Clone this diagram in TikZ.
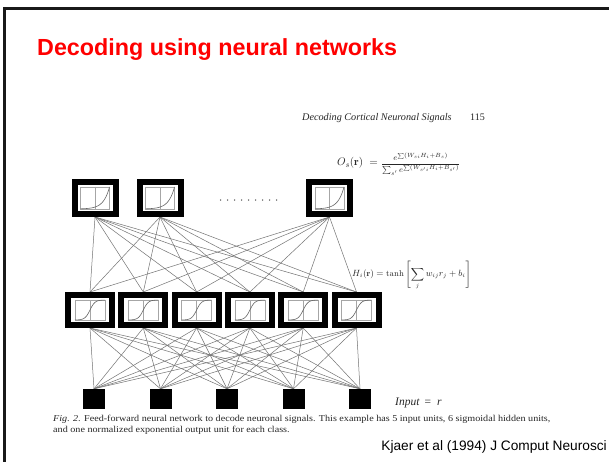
\documentclass[tikz,border=0pt]{standalone}
\usepackage{amsmath}
\usepackage{fontspec}
\newfontfamily\arialfont{Liberation Sans}
\newfontfamily\timesfont{Liberation Serif}
\usetikzlibrary{backgrounds,calc}
\begin{document}
\begin{tikzpicture}[x=1pt,y=-1pt,
  outunit/.style={draw=black, line width=6pt, fill=white, minimum width=41pt, minimum height=32pt, inner sep=0pt},
  hidunit/.style={draw=black, line width=6pt, fill=white, minimum width=44pt, minimum height=30pt, inner sep=0pt},
  inunit/.style={fill=black, minimum width=22pt, minimum height=20pt, inner sep=0pt},
  conn/.style={draw=black!55, line width=0.5pt},
  innerbox/.style={draw=black!35, line width=0.5pt},
  curveline/.style={draw=black!60, line width=0.6pt},
  scan/.style={text=black!85, inner sep=0pt},
]
\useasboundingbox (0,0) rectangle (609,462);
\begin{scope}[on background layer]
  \fill[white] (0,0) rectangle (609,462);
\end{scope}
\draw[line width=2.7pt, black!90] (609,8.5) -- (4.3,8.5) -- (4.3,462);

% title
\node[anchor=base west, text=red, inner sep=0pt, font=\arialfont\bfseries\fontsize{23.3}{28}\selectfont] (title) at (37,56) {Decoding using neural networks};

% units
\foreach \i/\px in {1/95,2/160,3/329.5} \node[outunit] (o\i) at (\px,198) {};
\foreach \i/\px in {1/90,2/143.3,3/196.6,4/249.9,5/303.2,6/356.5} \node[hidunit] (h\i) at (\px,310) {};
\foreach \i/\px in {1/94,2/160.5,3/227,4/293.5,5/360} \node[inunit] (in\i) at (\px,399) {};

% connectors
\begin{scope}[on background layer]
  \foreach \a in {1,2,3} \foreach \b in {1,...,6} \draw[conn] (o\a.south) -- (h\b.north);
  \foreach \a in {1,...,6} \foreach \b in {1,...,5} \draw[conn] (h\a.south) -- (in\b.north);
\end{scope}

% inner drawings
\foreach \n in {o1,o2,o3} {
  \begin{scope}[shift={(\n.center)}]
    \draw[innerbox] (-14.5,-11) rectangle (14.5,11);
    \draw[innerbox] (0,-11) -- (0,11);
    \draw[curveline] plot[domain=-14.5:14.5, samples=30, smooth] (\x,{11-22*exp((\x-14.5)/6)});
  \end{scope}
}
\foreach \n in {h1,h2,h3,h4,h5,h6} {
  \begin{scope}[shift={(\n.center)}]
    \draw[innerbox] (-15,-10) rectangle (15,10);
    \draw[innerbox] (0,-10) -- (0,10);
    \draw[curveline] plot[domain=-15:15, samples=30, smooth] (\x,{-10*tanh(\x/5)});
  \end{scope}
}

% dots
\foreach \k in {0,...,8} \fill[black!70] (220.5+7*\k,200) circle (0.75);

% texts of the scanned figure
\node[scan, anchor=base west, font=\timesfont\itshape\fontsize{10.2}{12}\selectfont] (hdr) at (302,121) {Decoding Cortical Neuronal Signals};
\node[scan, anchor=base west, font=\timesfont\fontsize{10}{12}\selectfont] (pg) at (470,121) {115};
\node[scan, anchor=west] (oeq) at (337,164) {\fontsize{11}{13}\selectfont$O_s(\mathbf{r})\;=\;$\fontsize{8.2}{10}\selectfont$\dfrac{e^{\sum(W_{si}H_i+B_s)}}{\sum_{s'} e^{\sum(W_{s'i}H_i+B_{s'})}}$};
\node[scan, anchor=west, font=\fontsize{8.6}{10}\selectfont] (heq) at (352,275) {$\displaystyle H_i(\mathbf{r}) = \tanh\left[\sum_j w_{ij}r_j + b_i\right]$};
\node[scan, anchor=base west, font=\timesfont\fontsize{11.5}{13}\selectfont] (inl) at (395,405) {\textit{Input}\hspace{5pt}=\hspace{6pt}\textit{r}};
\node[scan, anchor=base west, xscale=1.125, transform shape, font=\timesfont\fontsize{9}{11}\selectfont] (cap1) at (53,421) {\textit{Fig. 2.} Feed-forward neural network to decode neuronal signals. This example has 5 input units, 6 sigmoidal hidden units,};
\node[scan, anchor=base west, xscale=1.125, transform shape, font=\timesfont\fontsize{9}{11}\selectfont] (cap2) at (53,432) {and one normalized exponential output unit for each class.};

% citation
\node[anchor=base east, inner sep=0pt, font=\arialfont\fontsize{13.7}{16}\selectfont] (ref) at (607,450) {Kjaer et al (1994) J Comput Neurosci};
\end{tikzpicture}
\end{document}
